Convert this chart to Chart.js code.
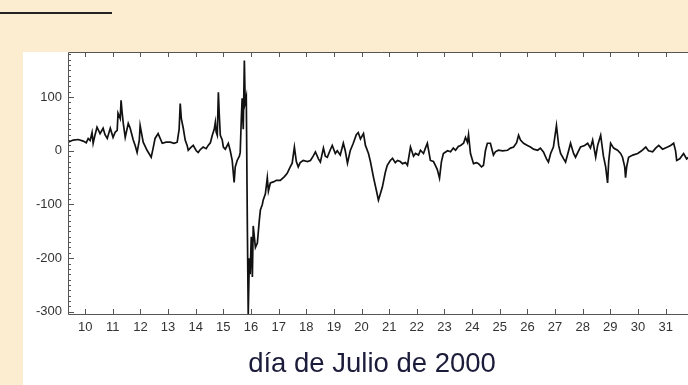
<!DOCTYPE html>
<html>
<head>
<meta charset="utf-8">
<script src="https://cdn.jsdelivr.net/npm/chart.js"></script>
<style>
  body { margin: 0; width: 688px; height: 385px; overflow: hidden; background: #fcecd0; position: relative; font-family: "Liberation Sans", Arial, sans-serif; }
  #rule { position: absolute; left: 0; top: 12px; width: 112px; height: 2px; background: #222; }
  #panel { position: absolute; left: 23px; top: 52px; width: 700px; height: 340px; background: #fff; }
  #chart { position: absolute; left: 23px; top: 48px; }
  #xtitle { position: absolute; left: 372px; top: 349px; transform: translateX(-50%); white-space: nowrap; font-size: 27.5px; line-height: 1; color: #1b1b3a; }
</style>
</head>
<body>
<div id="rule"></div>
<div id="panel"></div>
<canvas id="chart" width="670" height="337"></canvas>
<div id="xtitle">día de Julio de 2000</div>
<script>
// time in days of July 2000
var days = [9.38, 9.57, 9.75, 9.93, 10.04, 10.11, 10.18, 10.25, 10.29, 10.36, 10.43, 10.54, 10.65, 10.72, 10.80, 10.91,
    11.01, 11.09, 11.16, 11.19, 11.27, 11.30, 11.34, 11.38, 11.45, 11.56, 11.63, 11.74, 11.81, 11.88, 11.96, 11.99,
    12.10, 12.24, 12.39, 12.46, 12.53, 12.64, 12.79, 12.93, 13.08, 13.22, 13.33, 13.40, 13.44, 13.48, 13.55, 13.62,
    13.69, 13.73, 13.80, 13.91, 14.02, 14.09, 14.16, 14.27, 14.38, 14.45, 14.53, 14.60, 14.67, 14.71, 14.74, 14.78,
    14.82, 14.85, 14.89, 14.96, 15.00, 15.07, 15.18, 15.25, 15.32, 15.39, 15.43, 15.50, 15.58, 15.61, 15.65, 15.68,
    15.72, 15.76, 15.79, 15.83, 15.87, 15.90, 15.94, 15.97, 16.01, 16.05, 16.08, 16.16, 16.23, 16.30, 16.34, 16.41,
    16.44, 16.52, 16.59, 16.63, 16.70, 16.81, 16.92, 17.06, 17.21, 17.31, 17.42, 17.49, 17.57, 17.64, 17.71, 17.78,
    17.89, 18.04, 18.15, 18.25, 18.33, 18.44, 18.51, 18.62, 18.69, 18.76, 18.87, 18.94, 19.05, 19.12, 19.23, 19.34,
    19.41, 19.49, 19.59, 19.70, 19.81, 19.88, 19.96, 20.07, 20.14, 20.25, 20.32, 20.43, 20.54, 20.61, 20.68, 20.75,
    20.86, 20.93, 21.04, 21.12, 21.22, 21.30, 21.40, 21.48, 21.59, 21.66, 21.77, 21.88, 21.95, 22.06, 22.13, 22.24,
    22.31, 22.38, 22.49, 22.60, 22.67, 22.74, 22.82, 22.89, 22.96, 23.11, 23.22, 23.32, 23.40, 23.50, 23.58, 23.69,
    23.76, 23.83, 23.87, 23.94, 24.05, 24.16, 24.23, 24.34, 24.41, 24.48, 24.55, 24.66, 24.77, 24.84, 24.95, 25.10,
    25.28, 25.39, 25.50, 25.61, 25.68, 25.75, 25.86, 26.00, 26.11, 26.22, 26.37, 26.47, 26.58, 26.69, 26.76, 26.84,
    26.94, 27.05, 27.13, 27.20, 27.31, 27.38, 27.49, 27.56, 27.67, 27.74, 27.85, 27.92, 28.07, 28.18, 28.28, 28.36,
    28.47, 28.54, 28.65, 28.75, 28.83, 28.90, 28.94, 29.01, 29.12, 29.26, 29.37, 29.44, 29.52, 29.55, 29.59, 29.66,
    29.81, 29.99, 30.13, 30.28, 30.38, 30.53, 30.64, 30.75, 30.89, 31.07, 31.18, 31.29, 31.36, 31.40, 31.51, 31.65,
    31.76, 31.83, 31.98];

var values = [16, 20, 21, 18, 15, 23, 19, 34, 14, 30, 44, 32, 42, 30, 23, 42,
    25, 35, 38, 70, 60, 94, 70, 51, 25, 51, 42, 20, 10, -3, 20, 47,
    16, 1, -12, 5, 23, 32, 14, 16, 16, 14, 16, 40, 88, 60, 42, 20,
    10, 1, 5, 10, 0, -3, 2, 7, 4, 10, 15, 29, 40, 53, 35, 29,
    109, 70, 29, 20, 7, 3, 14, 0, -18, -59, -30, -18, -10, -3, 60, 98,
    40, 168, 90, 100, -150, -306, -200, -230, -160, -235, -140, -180, -172, -130, -110, -100,
    -92, -80, -50, -75, -60, -58, -55, -55, -48, -42, -30, -23, 7, -20, -30, -22,
    -18, -20, -18, -10, -2, -15, -21, 5, -10, -12, 2, 10, -5, 0, -8, 14,
    0, -23, 0, 14, 30, 34, 22, 32, 10, -5, -20, -49, -75, -92, -80, -68,
    -40, -27, -18, -14, -22, -18, -20, -24, -22, -27, 7, -10, -5, -8, 1, -5,
    5, 14, -18, -20, -27, -35, -51, -20, -5, 0, -2, 5, 1, 8, 10, 14,
    25, 16, 30, -5, -24, -22, -24, -30, -27, 0, 14, 14, -8, -2, 1, 0,
    1, 5, 7, 15, 29, 20, 14, 10, 7, 3, 1, 5, -2, -15, -21, -5,
    7, 47, 10, -5, -15, -21, 0, 14, -5, -12, 0, 7, 10, 14, 5, 20,
    -12, 10, 29, -10, -30, -60, -20, 14, 5, 1, -5, -12, -30, -50, -30, -12,
    -8, -5, 0, 7, 0, -2, 5, 10, 3, 7, 10, 14, 0, -18, -15, -5,
    -15, -12, -8];

var dayTicks = [10, 11, 12, 13, 14, 15, 16, 17, 18, 19, 20, 21, 22, 23, 24, 25, 26, 27, 28, 29, 30, 31];
var valueTicks = [100, 0, -100, -200, -300];

// box around the plot with short inward ticks, like the original figure
var frame = {
    id: 'frame',
    afterDraw(chart) {
        const { ctx, chartArea: { left, right, top, bottom }, scales: { x, y } } = chart;
        ctx.save();
        ctx.strokeStyle = '#555';
        ctx.lineWidth = 1;
        ctx.beginPath();
        ctx.moveTo(right + 5, top + 0.5);
        ctx.lineTo(left + 0.5, top + 0.5);
        ctx.lineTo(left + 0.5, bottom + 0.5);
        ctx.lineTo(right + 5, bottom + 0.5);
        for (const d of dayTicks) {
            const px = Math.round(x.getPixelForValue(d)) + 0.5;
            ctx.moveTo(px, bottom);
            ctx.lineTo(px, bottom - 5);
            ctx.moveTo(px, top);
            ctx.lineTo(px, top + 5);
        }
        for (let v = -300; v <= 180; v += 10) {
            const py = Math.round(y.getPixelForValue(v)) + 0.5;
            ctx.moveTo(left, py);
            ctx.lineTo(left + (valueTicks.includes(v) ? 6 : 3), py);
        }
        ctx.stroke();
        ctx.restore();
    }
};

new Chart(document.getElementById('chart'), {
    type: 'line',
    data: {
        datasets: [{
            data: days.map((d, i) => ({ x: d, y: values[i] })),
            borderColor: '#111',
            borderWidth: 1.7,
            pointRadius: 0,
            tension: 0,
            fill: false
        }]
    },
    options: {
        responsive: false,
        animation: false,
        layout: { padding: { top: 4, right: 0, left: 0, bottom: 0 } },
        plugins: { legend: { display: false }, tooltip: { enabled: false } },
        scales: {
            x: {
                type: 'linear',
                min: 9.38,
                max: 31.99,
                afterFit: s => { s.height = 71; s.paddingLeft = 0; s.paddingRight = 0; },
                grid: { display: false, drawTicks: false },
                border: { display: false },
                ticks: {
                    stepSize: 1,
                    includeBounds: false,
                    autoSkip: false,
                    maxRotation: 0,
                    padding: 6,
                    color: '#333',
                    font: { family: 'Liberation Sans', size: 13 },
                    callback: v => dayTicks.includes(v) ? String(v) : ''
                }
            },
            y: {
                min: -304,
                max: 184,
                afterFit: s => { s.width = 45; s.paddingTop = 0; s.paddingBottom = 0; },
                grid: { display: false, drawTicks: false },
                border: { display: false },
                ticks: {
                    stepSize: 100,
                    includeBounds: false,
                    padding: 6,
                    color: '#333',
                    font: { family: 'Liberation Sans', size: 13 },
                    callback: v => valueTicks.includes(v) ? String(v) : ''
                }
            }
        }
    },
    plugins: [frame]
});
</script>
</body>
</html>
